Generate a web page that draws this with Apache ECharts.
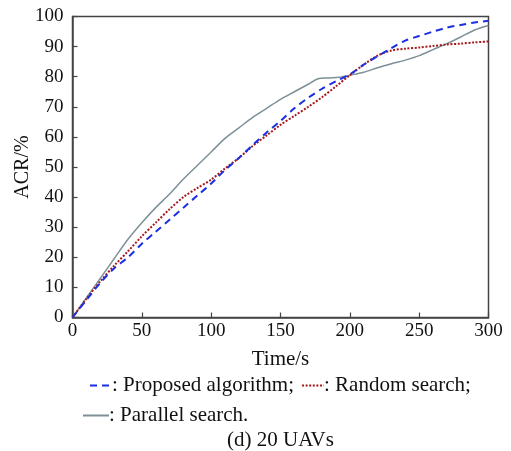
<!DOCTYPE html>
<html><head><meta charset="utf-8">
<script src="https://cdn.jsdelivr.net/npm/echarts@6/dist/echarts.min.js"></script>
<style>html,body{margin:0;padding:0;background:#fff}#c{width:511px;height:451px}</style>
</head><body><div id="c"></div>
<script>
const times = [0,10,20,30,40,50,60,70,80,90,100,110,120,130,140,150,160,170,180,190,200,210,220,230,240,250,260,270,280,290,300];
const proposed = [0,5.8,11.5,16.3,20,24.5,28.5,32.5,36.5,40.5,44.5,49,53,57.3,61.5,65.3,69.5,73,76,78.5,80.8,84,86.8,89.5,92,93.5,95,96.3,97.2,98,98.6];
const randomS = [0,6.2,12,17.2,22,27,31.5,36,40,43,45.8,49.5,53,57,60.5,64,67,70,73.2,76.8,80.5,84,87,88.7,89.3,89.7,90.2,90.7,91,91.4,91.7];
const parallelT = [0,10,20,30,40,50,60,70,80,90,100,110,120,130,140,150,160,170,177,185,192,200,210,220,230,240,250,260,270,280,290,300];
const parallelS = [0,6.5,13,19.5,26,31.5,36.5,41,46,50.5,55,59.5,63,66.5,69.5,72.5,75,77.5,79.3,79.6,79.8,80.5,81.5,83,84.3,85.5,87,89,91,93.2,95.5,97];
const names = ['Proposed algorithm','Random search','Parallel search'];

const pair = (t, v) => t.map((x, i) => [x, v[i]]);
const font = 'Liberation Serif, Times New Roman, serif';
const chart = echarts.init(document.getElementById('c'), null, {renderer: 'canvas'});
chart.setOption({
  animation: false,
  backgroundColor: '#fff',
  grid: {left: 72.5, right: 22.5, top: 16.5, bottom: 133.5, show: true, borderColor: '#444', borderWidth: 1.5,
         containLabel: false, outerBoundsMode: 'none'},
  xAxis: {
    type: 'value', min: 0, max: 300, interval: 50,
    name: 'Time/s', nameLocation: 'middle', nameGap: 31, nameMoveOverlap: false,
    nameTextStyle: {fontFamily: font, fontSize: 21, color: '#111'},
    axisLine: {lineStyle: {color: '#444', width: 1.5}},
    axisTick: {inside: true, length: 5, lineStyle: {color: '#444', width: 1.2}},
    axisLabel: {fontFamily: font, fontSize: 19, color: '#111', margin: 4},
    splitLine: {show: false}
  },
  yAxis: {
    type: 'value', min: 0, max: 100, interval: 10,
    name: 'ACR/%', nameLocation: 'middle', nameGap: 40, nameMoveOverlap: false,
    nameTextStyle: {fontFamily: font, fontSize: 20, color: '#111'},
    axisLine: {lineStyle: {color: '#444', width: 1.5}},
    axisTick: {inside: true, length: 5, lineStyle: {color: '#444', width: 1.2}},
    axisLabel: {fontFamily: font, fontSize: 19, color: '#111', margin: 9},
    splitLine: {show: false}
  },
  legend: [
    {data: [names[0], names[1]], left: 84, top: 370, itemWidth: 22, itemHeight: 10, itemGap: 7,
     itemStyle: {opacity: 0}, formatter: n => ': ' + n + ';',
     textStyle: {fontFamily: font, fontSize: 21, color: '#111', padding: [0,0,0,-5]}},
    {data: [names[2]], left: 77, top: 400, itemWidth: 26, itemHeight: 10,
     itemStyle: {opacity: 0}, formatter: n => ': ' + n + '.',
     textStyle: {fontFamily: font, fontSize: 21, color: '#111', padding: [0,0,0,-5]}}
  ],
  title: {text: '(d) 20 UAVs', left: 222, top: 425,
    textStyle: {fontFamily: font, fontSize: 21, fontWeight: 'normal', color: '#111'}},
  series: [
    {name: names[0], type: 'line', data: pair(times, proposed), symbol: 'none', smooth: 0.3,
     lineStyle: {color: '#1a2fe0', width: 2, type: [7,5]}, itemStyle: {color: '#1a2fe0'}, z: 3},
    {name: names[1], type: 'line', data: pair(times, randomS), symbol: 'none', smooth: 0.3,
     lineStyle: {color: '#a3191c', width: 2, type: [2,1.6]}, itemStyle: {color: '#a3191c'}, z: 2},
    {name: names[2], type: 'line', data: pair(parallelT, parallelS), symbol: 'none', smooth: 0.3,
     lineStyle: {color: '#7d9098', width: 1.5}, itemStyle: {color: '#7d9098'}, z: 1}
  ]
});
</script></body></html>
